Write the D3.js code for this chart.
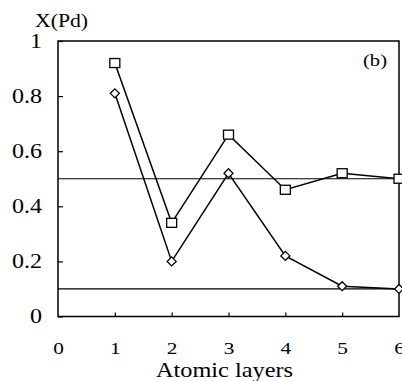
<!DOCTYPE html>
<html><head><meta charset="utf-8">
<script src="https://cdn.jsdelivr.net/npm/d3@7"></script>
<style>body{margin:0;background:#fff}svg{display:block}text{font-family:"Liberation Serif","Times New Roman",serif;fill:#000}</style>
</head><body><svg id="c" width="402" height="381"></svg>
<script>
const layers = [1, 2, 3, 4, 5, 6];
const squareSeries = [0.92, 0.34, 0.66, 0.46, 0.52, 0.50];
const diamondSeries = [0.81, 0.20, 0.52, 0.22, 0.11, 0.10];
const refLines = [0.5, 0.1];
const xTicks = [0, 1, 2, 3, 4, 5, 6];
const yTicks = [0, 0.2, 0.4, 0.6, 0.8, 1];
const yTickLabels = ["0", "0.2", "0.4", "0.6", "0.8", "1"];

const svg = d3.select("#c");
const L = 58, R = 399, T = 41, B = 316.5;
const x = d3.scaleLinear().domain([0, 6]).range([L, R]);
const y = d3.scaleLinear().domain([0, 1]).range([B, T]);

function stretch(sel, f) {
  sel.each(function () {
    const w = this.getComputedTextLength();
    d3.select(this).attr("textLength", w * f).attr("lengthAdjust", "spacingAndGlyphs");
  });
}

// reference horizontal lines
svg.selectAll(".ref").data(refLines).enter().append("line")
  .attr("x1", L).attr("x2", R).attr("y1", d => y(d)).attr("y2", d => y(d))
  .attr("stroke", "#000").attr("stroke-width", 1.2);

// frame
svg.append("rect").attr("x", L).attr("y", T).attr("width", R - L).attr("height", B - T)
  .attr("fill", "none").attr("stroke", "#000").attr("stroke-width", 1.5);

// y axis ticks (inward)
const yAx = d3.axisLeft(y).tickValues(yTicks).tickSize(-5).tickPadding(16)
  .tickFormat((d, i) => yTickLabels[i]);
const gy = svg.append("g").attr("transform", `translate(${L},0)`).call(yAx);
gy.select(".domain").remove();
gy.selectAll("line").attr("stroke", "#000").attr("stroke-width", 1.2);
gy.selectAll("text").attr("font-size", 20).attr("font-family", "Liberation Serif");
stretch(gy.selectAll("text"), 1.2);

// x axis ticks (inward)
const xAx = d3.axisBottom(x).tickValues(xTicks).tickSize(-4).tickPadding(25).tickFormat(d3.format("d"));
const gx = svg.append("g").attr("transform", `translate(0,${B})`).call(xAx);
gx.select(".domain").remove();
gx.selectAll(".tick").filter(d => d === 0 || d === 6).select("line").remove();
gx.selectAll("line").attr("stroke", "#000").attr("stroke-width", 1.2);
gx.selectAll("text").attr("font-size", 17).attr("font-family", "Liberation Serif");
stretch(gx.selectAll("text"), 1.25);

// series lines
const line = d3.line().x((d, i) => x(layers[i])).y(d => y(d));
[squareSeries, diamondSeries].forEach(s => {
  svg.append("path").attr("d", line(s)).attr("fill", "none")
    .attr("stroke", "#000").attr("stroke-width", 1.5);
});

// markers
svg.selectAll(".sq").data(squareSeries).enter().append("rect")
  .attr("x", (d, i) => x(layers[i]) - 5).attr("y", d => y(d) - 4.5)
  .attr("width", 10).attr("height", 9)
  .attr("fill", "#fff").attr("stroke", "#000").attr("stroke-width", 1.3);
svg.selectAll(".dm").data(diamondSeries).enter().append("path")
  .attr("d", (d, i) => {
    const cx = x(layers[i]), cy = y(d), r = 4.5;
    return `M${cx},${cy - r}L${cx + r},${cy}L${cx},${cy + r}L${cx - r},${cy}Z`;
  })
  .attr("fill", "#fff").attr("stroke", "#000").attr("stroke-width", 1.3);

// labels
svg.append("text").attr("x", 35).attr("y", 27).attr("font-size", 18)
  .attr("textLength", 53).attr("lengthAdjust", "spacingAndGlyphs").text("X(Pd)");
svg.append("text").attr("x", 363).attr("y", 66).attr("font-size", 17)
  .attr("textLength", 24).attr("lengthAdjust", "spacingAndGlyphs").text("(b)");
svg.append("text").attr("x", 156).attr("y", 377).attr("font-size", 22)
  .attr("textLength", 137).attr("lengthAdjust", "spacingAndGlyphs").text("Atomic layers");
</script></body></html>
